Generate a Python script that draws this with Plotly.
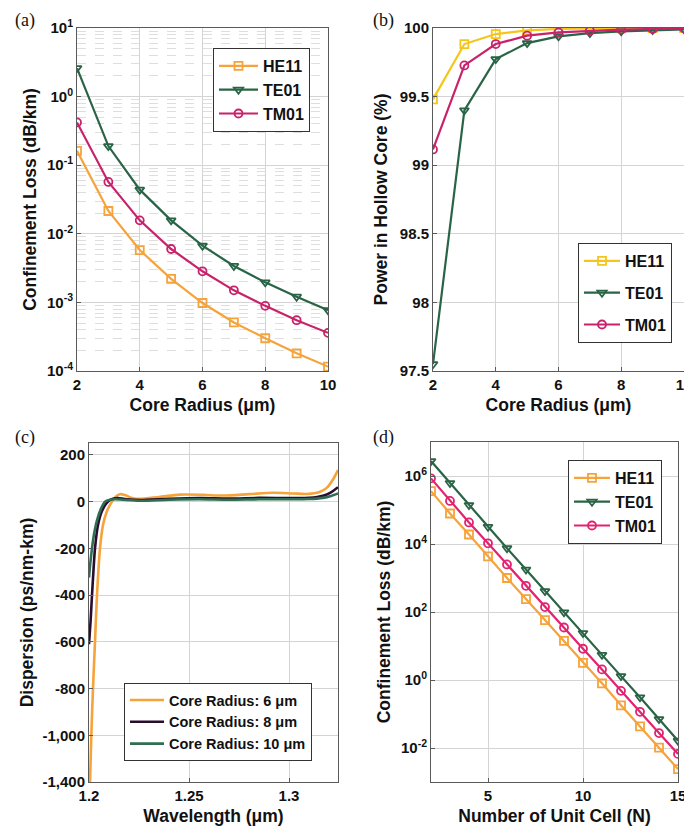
import plotly.graph_objects as go

# ---------------- data ----------------
# (a) confinement loss vs core radius
radius = [2, 3, 4, 5, 6, 7, 8, 9, 10]
a_he11 = [0.162, 0.0215, 0.0058, 0.0022, 0.00098, 0.00051, 0.00030, 0.000181, 0.000116]
a_te01 = [2.6, 0.19, 0.044, 0.0157, 0.0067, 0.0034, 0.00196, 0.00121, 0.00077]
a_tm01 = [0.42, 0.057, 0.0157, 0.0060, 0.00284, 0.0015, 0.00089, 0.00055, 0.00036]

# (b) power in hollow core vs core radius
b_he11 = [99.48, 99.883, 99.956, 99.983, 99.993, 99.997, 99.998, 99.999, 99.999]
b_te01 = [97.55, 99.40, 99.773, 99.89, 99.939, 99.963, 99.976, 99.985, 99.990]
b_tm01 = [99.115, 99.727, 99.883, 99.944, 99.968, 99.980, 99.988, 99.993, 99.997]

# (c) dispersion vs wavelength
c6_wl = [1.2000, 1.2005, 1.2012, 1.2020, 1.2030, 1.2040, 1.2055, 1.2070, 1.2090, 1.2115,
         1.2135, 1.2155, 1.2180, 1.2215, 1.2255, 1.2350, 1.2455, 1.2570, 1.2670, 1.2800,
         1.2920, 1.3020, 1.3090, 1.3150, 1.3190, 1.3220, 1.3245]
c6_d = [-1300, -1200, -990, -800, -600, -400, -200, -100, -40, 0,
        22, 32, 28, 16, 12, 20, 30, 29, 26, 32,
        38, 35, 33, 40, 60, 95, 135]
c8_wl = [1.2000, 1.2008, 1.2015, 1.2022, 1.2030, 1.2045, 1.2065, 1.2095, 1.2120, 1.2145,
         1.2180, 1.2255, 1.2400, 1.2550, 1.2700, 1.2850, 1.3000, 1.3100, 1.3170, 1.3210, 1.3245]
c8_d = [-610, -510, -400, -300, -200, -100, -40, 0, 12, 15,
        11, 7, 12, 15, 13, 16, 15, 16, 25, 40, 62]
c10_wl = [1.2000, 1.2007, 1.2015, 1.2025, 1.2040, 1.2060, 1.2080, 1.2105, 1.2130, 1.2170,
          1.2255, 1.2400, 1.2550, 1.2700, 1.2850, 1.3000, 1.3100, 1.3170, 1.3210, 1.3245]
c10_d = [-325, -260, -200, -140, -80, -30, 0, 8, 10, 8,
         4, 8, 10, 8, 10, 10, 11, 16, 24, 35]

# (d) confinement loss vs number of unit cells
cells = [2, 3, 4, 5, 6, 7, 8, 9, 10, 11, 12, 13, 14, 15]
d_he11 = [3.6e5, 7.9e4, 1.9e4, 4.3e3, 1.0e3, 240, 58, 14.2, 3.2, 0.8, 0.18, 0.043, 0.0102, 0.0024]
d_te01 = [2.75e6, 6.2e5, 1.4e5, 3.2e4, 7.5e3, 1.77e3, 412, 98, 24, 5.5, 1.3, 0.31, 0.0707, 0.0164]
d_tm01 = [8.5e5, 1.85e5, 4.3e4, 1.05e4, 2.5e3, 590, 140, 35, 8.3, 2.05, 0.48, 0.116, 0.0275, 0.0067]

# tick labels
a_tickvals = [1e-4, 1e-3, 1e-2, 1e-1, 1, 10]
a_ticktext = ["10<sup>-4</sup>", "10<sup>-3</sup>", "10<sup>-2</sup>", "10<sup>-1</sup>",
              "10<sup>0</sup>", "10<sup>1</sup>"]
b_tickvals = [97.5, 98, 98.5, 99, 99.5, 100]
b_ticktext = ["97.5", "98", "98.5", "99", "99.5", "100"]
c_tickvals = [200, 0, -200, -400, -600, -800, -1000, -1200]
c_ticktext = ["200", "0", "-200", "-400", "-600", "-800", "-1,000", "-1,400"]
d_tickvals = [1e-2, 1, 1e2, 1e4, 1e6]
d_ticktext = ["10<sup>-2</sup>", "10<sup>0</sup>", "10<sup>2</sup>", "10<sup>4</sup>", "10<sup>6</sup>"]

# ---------------- styling ----------------
FONT = "Liberation Sans"
ORANGE = "#F5A33A"
YELLOW = "#F6C51B"
DGREEN = "#2A6446"
MAGENTA = "#C8226B"
PINK = "#E2236F"
PURPLE = "#2A0D2E"
CGREEN = "#2F6E52"

fig = go.Figure()


def add_series(x, y, name, color, symbol, xa, ya, legend, group):
    fig.add_trace(go.Scatter(
        x=x, y=y, name=name, mode="lines+markers",
        line=dict(color=color, width=2.2),
        marker=dict(symbol=symbol, size=8, color=color,
                    line=dict(color=color, width=1.8)),
        xaxis=xa, yaxis=ya, legend=legend, legendgroup=group))


add_series(radius, a_he11, "HE11", ORANGE, "square-open", "x", "y", "legend", "a1")
add_series(radius, a_te01, "TE01", DGREEN, "triangle-down-open", "x", "y", "legend", "a2")
add_series(radius, a_tm01, "TM01", MAGENTA, "circle-open", "x", "y", "legend", "a3")

add_series(radius, b_he11, "HE11", YELLOW, "square-open", "x2", "y2", "legend2", "b1")
add_series(radius, b_te01, "TE01", DGREEN, "triangle-down-open", "x2", "y2", "legend2", "b2")
add_series(radius, b_tm01, "TM01", MAGENTA, "circle-open", "x2", "y2", "legend2", "b3")

for wl, d, nm, col in [(c6_wl, c6_d, "Core Radius: 6 μm", ORANGE),
                       (c8_wl, c8_d, "Core Radius: 8 μm", PURPLE),
                       (c10_wl, c10_d, "Core Radius: 10 μm", CGREEN)]:
    fig.add_trace(go.Scatter(x=wl, y=d, name=nm, mode="lines",
                             line=dict(color=col, width=2.6, shape="spline", smoothing=0.8),
                             xaxis="x3", yaxis="y3", legend="legend3"))

add_series(cells, d_he11, "HE11", ORANGE, "square-open", "x4", "y4", "legend4", "d1")
add_series(cells, d_te01, "TE01", DGREEN, "triangle-down-open", "x4", "y4", "legend4", "d2")
add_series(cells, d_tm01, "TM01", PINK, "circle-open", "x4", "y4", "legend4", "d3")

# page body has an 8px margin: lay out in window pixels and shift
OFF = 8
W, H = 692 - OFF, 827 - OFF


def px(x):
    return (x - OFF) / W


def py(y):
    return 1 - (y - OFF) / H


def dx(a, b):
    return [px(a), px(b)]


def dy(top, bottom):
    return [py(bottom), py(top)]


GRID = "#d4d4d4"
LINE = "#5a5a5a"
tickfont = dict(family=FONT, size=15, color="#111", weight="bold")
titlefont = dict(family=FONT, size=17.5, color="#111", weight="bold")


def axis(**kw):
    base = dict(showline=True, linecolor=LINE, linewidth=1, mirror=True,
                ticks="inside", ticklen=4, tickcolor=LINE,
                showgrid=True, gridcolor=GRID, gridwidth=1,
                zeroline=False, tickfont=tickfont, automargin=False,
                ticklabeloverflow="allow")
    base.update(kw)
    return base


fig.update_layout(
    width=W, height=H,
    margin=dict(l=0, r=0, t=0, b=0, autoexpand=False),
    paper_bgcolor="white", plot_bgcolor="white",
    showlegend=True,
    font=dict(family=FONT, color="#111"),
    xaxis=axis(domain=dx(77, 328), range=[2, 10], tickvals=[2, 4, 6, 8, 10], anchor="y",
               title=dict(text="Core Radius (μm)", font=titlefont, standoff=6)),
    yaxis=axis(domain=dy(28, 371), type="log", range=[-4, 1], tickvals=a_tickvals,
               ticktext=a_ticktext, anchor="x",
               minor=dict(showgrid=True, dtick="D1", gridcolor="#dedede", griddash="dash", ticks=""),
               title=dict(text="Confinement Loss (dB/km)", font=titlefont, standoff=5)),
    xaxis2=axis(domain=dx(433, 684), range=[2, 10], tickvals=[2, 4, 6, 8, 10], anchor="y2",
                title=dict(text="Core Radius (μm)", font=titlefont, standoff=6)),
    yaxis2=axis(domain=dy(28, 371), range=[97.5, 100], tickvals=b_tickvals,
                ticktext=b_ticktext, anchor="x2",
                title=dict(text="Power in Hollow Core (%)", font=titlefont, standoff=7)),
    xaxis3=axis(domain=dx(89, 338), range=[1.2, 1.3245], tickvals=[1.2, 1.25, 1.3],
                ticktext=["1.2", "1.25", "1.3"], anchor="y3",
                title=dict(text="Wavelength (μm)", font=titlefont, standoff=6)),
    yaxis3=axis(domain=dy(443, 782), range=[-1200, 251], tickvals=c_tickvals,
                ticktext=c_ticktext, anchor="x3",
                title=dict(text="Dispersion (ps/nm-km)", font=titlefont, standoff=4)),
    xaxis4=axis(domain=dx(431, 678), range=[2, 15], tickvals=[5, 10, 15], anchor="y4",
                title=dict(text="Number of Unit Cell (N)", font=titlefont, standoff=6)),
    yaxis4=axis(domain=dy(442, 782), type="log", range=[-3, 7], tickvals=d_tickvals,
                ticktext=d_ticktext, anchor="x4",
                title=dict(text="Confinement Loss (dB/km)", font=titlefont, standoff=5)),
)


def legend(x, y, gap, size, iw, order="grouped"):
    return dict(x=px(x), y=py(y), xanchor="left", yanchor="top",
                bgcolor="white", bordercolor="#333", borderwidth=1,
                font=dict(family=FONT, size=size, color="#111", weight="bold"),
                tracegroupgap=gap, traceorder=order, itemwidth=iw)


fig.update_layout(
    legend=legend(213, 48, 0, 16, 39),
    legend2=legend(578, 243, 8, 16, 36),
    legend3=legend(124, 683, 0, 14.5, 34, "normal"),
    legend4=legend(568, 460, 0, 16, 36),
)

labels = [("(a)", 25, 8), ("(b)", 383, 8), ("(c)", 25, 425), ("(d)", 383, 425)]
for txt, x, y in labels:
    fig.add_annotation(text=txt, x=px(x), y=py(y), xref="paper", yref="paper",
                       showarrow=False, xanchor="center", yanchor="top",
                       font=dict(family="Liberation Serif", size=18, color="#111"))

fig.write_html("out.html")
